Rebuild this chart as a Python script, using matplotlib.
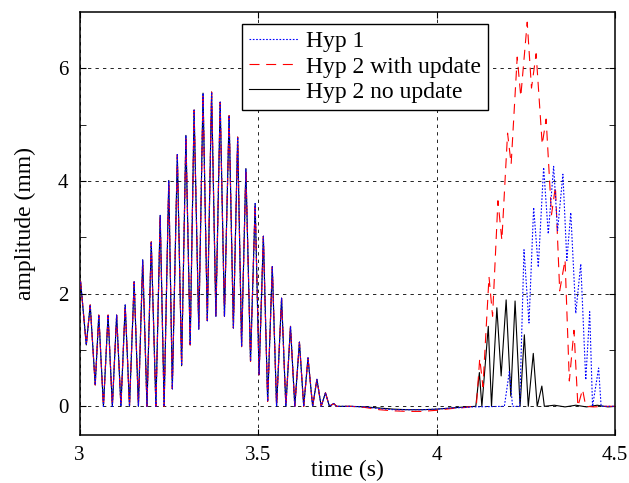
import matplotlib
matplotlib.use('Agg')
import matplotlib.pyplot as plt

# shared part: all three curves overlap before ~3.72 s
t_common = [3.000, 3.003, 3.019, 3.030, 3.044, 3.054, 3.067, 3.080, 3.092, 3.104,
            3.116, 3.128, 3.140, 3.153, 3.165, 3.177, 3.189, 3.201, 3.214, 3.226,
            3.237, 3.250, 3.260, 3.274, 3.286, 3.298, 3.310, 3.321, 3.334, 3.346,
            3.358, 3.370, 3.382, 3.394, 3.406, 3.419, 3.431, 3.443, 3.454, 3.466,
            3.479, 3.492, 3.503, 3.515, 3.527, 3.540, 3.552, 3.566, 3.578, 3.591,
            3.603, 3.616, 3.628, 3.640, 3.653, 3.665, 3.677, 3.689, 3.700, 3.712,
            3.720]
amp_common = [2.19, 2.22, 1.09, 1.80, 0.38, 1.62, 0.00, 1.62, 0.00, 1.62,
              0.00, 1.80, 0.00, 2.21, 0.00, 2.60, 0.00, 2.92, 0.00, 3.39,
              0.00, 4.01, 0.31, 4.47, 0.72, 4.81, 1.09, 5.26, 1.37, 5.56,
              1.52, 5.58, 1.60, 5.40, 1.60, 5.16, 1.39, 4.78, 1.06, 4.22,
              0.80, 3.60, 0.56, 3.02, 0.09, 2.48, 0.00, 1.92, 0.00, 1.42,
              0.00, 1.14, 0.00, 0.86, 0.00, 0.48, 0.00, 0.24, 0.00, 0.05,
              0.00]

t_mid = [3.76, 3.80, 3.84, 3.88, 3.92, 3.96, 4.00, 4.04, 4.08]
hyp1_mid = [0.0, -0.01, -0.04, -0.06, -0.06, -0.06, -0.05, -0.03, -0.02]
upd_mid = [0.0, -0.02, -0.06, -0.08, -0.09, -0.09, -0.07, -0.04, -0.02]
noupd_mid = [0.0, -0.01, -0.03, -0.05, -0.06, -0.06, -0.05, -0.03, -0.01]

# Hyp 1
hyp1_t = [4.100, 4.190, 4.204, 4.213, 4.233, 4.245, 4.259, 4.272, 4.285, 4.300,
          4.313, 4.328, 4.339, 4.354, 4.365, 4.376, 4.390, 4.404, 4.418, 4.429,
          4.437, 4.454, 4.461, 4.480, 4.500]
hyp1_a = [-0.01, 0.00, 0.62, 0.00, 0.00, 2.78, 1.48, 3.53, 2.47, 4.24,
          3.06, 4.26, 3.12, 4.12, 2.59, 3.44, 1.65, 2.53, 0.47, 1.68,
          0.00, 0.68, 0.00, 0.00, 0.00]

# Hyp 2 with update
upd_t = [4.100, 4.112, 4.121, 4.130, 4.147, 4.157, 4.172, 4.183, 4.199, 4.209,
         4.226, 4.236, 4.254, 4.266, 4.279, 4.296, 4.307, 4.322, 4.333, 4.345,
         4.360, 4.372, 4.385, 4.396, 4.409, 4.418, 4.440, 4.470, 4.500]
upd_a = [0.00, 0.05, 0.85, 0.35, 2.30, 1.60, 3.65, 2.95, 4.85, 4.30,
         6.20, 5.50, 6.82, 5.65, 6.26, 4.65, 5.10, 3.40, 3.90, 2.05,
         2.60, 0.45, 1.35, 0.00, 0.30, 0.00, -0.01, 0.00, 0.00]

# Hyp 2 no update
noupd_t = [4.110, 4.120, 4.127, 4.145, 4.154, 4.169, 4.181, 4.195, 4.208, 4.220,
           4.234, 4.246, 4.257, 4.271, 4.282, 4.295, 4.302, 4.330, 4.360, 4.390,
           4.420, 4.450, 4.480, 4.500]
noupd_a = [0.00, 0.60, 0.00, 1.42, 0.00, 1.75, 0.54, 1.89, 0.18, 1.87,
           0.00, 1.27, 0.00, 0.94, 0.00, 0.36, 0.00, 0.02, -0.01, 0.02,
           -0.01, 0.02, -0.01, 0.00]

plt.rcParams['font.family'] = 'Liberation Serif'

fig = plt.figure(figsize=(6.29, 4.83), dpi=100)
ax = fig.add_axes([0.1264, 0.1004, 0.8514, 0.8747])

ax.plot(t_common + t_mid + hyp1_t, amp_common + hyp1_mid + hyp1_a,
        color='#0000ff', lw=0.8, linestyle=(0, (1.5, 1.5)), zorder=4, label='Hyp 1')
ax.plot(t_common + t_mid + upd_t, amp_common + upd_mid + upd_a,
        color='#ff0000', lw=0.8, linestyle=(0, (9, 6)), zorder=3, label='Hyp 2 with update')
ax.plot(t_common + t_mid + noupd_t, amp_common + noupd_mid + noupd_a,
        color='black', lw=0.8, zorder=2, label='Hyp 2 no update')

ax.set_xlim(3, 4.5)
ax.set_ylim(-0.5, 7)
ax.set_xticks([3, 3.5, 4, 4.5])
ax.set_xticklabels(['3', '3.5', '4', '4.5'])
ax.set_yticks([0, 2, 4, 6])
ax.set_yticks([1, 3, 5], minor=True)
ax.tick_params(which='both', direction='in', top=True, right=True, labelsize=15, pad=8)
ax.tick_params(which='major', length=4)
ax.tick_params(which='minor', length=4)
ax.grid(True, which='major', color='black', lw=0.6, linestyle=(0, (4, 5)))
ax.set_axisbelow(True)
for s in ax.spines.values():
    s.set_linewidth(1.1)

ax.set_xlabel('time (s)', fontsize=17, labelpad=-3.5)
ax.set_ylabel('amplitude (mm)', fontsize=17, labelpad=16)

leg = ax.legend(loc='upper center', bbox_to_anchor=(0.533, 0.972), fontsize=17,
                frameon=True, fancybox=False, edgecolor='black', framealpha=1,
                handlelength=2.1, handletextpad=0.3, labelspacing=0.15,
                borderpad=0.3, borderaxespad=0)
leg.get_frame().set_linewidth(1.0)

fig.savefig('out.png', dpi=100)
